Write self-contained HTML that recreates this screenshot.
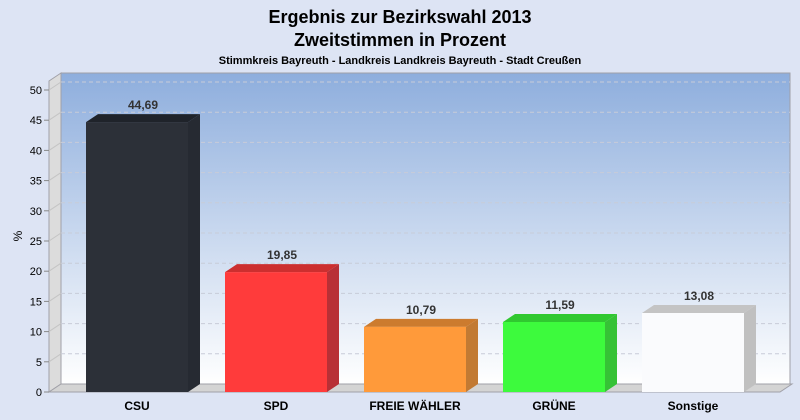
<!DOCTYPE html>
<html><head><meta charset="utf-8"><style>
body{margin:0;background:#dde4f4;font-family:"Liberation Sans",sans-serif;}
svg{display:block}
</style></head><body>
<svg width="800" height="420">
<defs>
<linearGradient id="bg" x1="0" y1="0" x2="0" y2="1"><stop offset="0" stop-color="#8eaedd"/><stop offset="1" stop-color="#ffffff"/></linearGradient>
</defs>
<rect width="800" height="420" fill="#dde4f4"/>
<text x="400" y="23" text-anchor="middle" font-size="18" font-weight="bold" fill="#000">Ergebnis zur Bezirkswahl 2013</text>
<text x="400" y="46" text-anchor="middle" font-size="18" font-weight="bold" fill="#000">Zweitstimmen in Prozent</text>
<text x="400" y="64" text-anchor="middle" font-size="11" font-weight="bold" fill="#000">Stimmkreis Bayreuth - Landkreis Landkreis Bayreuth - Stadt Creußen</text>
<rect x="61" y="73" width="729" height="311" fill="url(#bg)" stroke="#a0a0a8"/>
<polygon points="49,81 61,73 61,384 49,392" fill="#dcdcdc" stroke="#a0a0a8"/>
<polygon points="49,392 61,384 792,384 780,392" fill="#d4d4d4" stroke="#a0a0a8"/>
<text x="22" y="236" font-size="12" fill="#000" transform="rotate(-90 22 236)" text-anchor="middle">%</text>
<g id="grid"></g><g id="bars"></g>
</svg>
<script>
const categories=["CSU","SPD","FREIE WÄHLER","GRÜNE","Sonstige"];
const values=[44.69,19.85,10.79,11.59,13.08];
const labels=["44,69","19,85","10,79","11,59","13,08"];
const colors=[["#2c3038","#1f232a","#262a32"],["#ff3b3b","#cc2f2f","#b83036"],["#ff9a3a","#cc7b2e","#c27a33"],["#3dfa3d","#30c830","#36c236"],["#fafbfd","#c4c4c4","#c0c0c0"]];
const ticks=[0,5,10,15,20,25,30,35,40,45,50];
const NS="http://www.w3.org/2000/svg";
const y=v=>392-v*6.04;
const x=i=>86+i*139;
const DX=12,DY=8,W=102;
const g=document.getElementById('grid'),b=document.getElementById('bars');
function el(t,a,p){const e=document.createElementNS(NS,t);for(const k in a)e.setAttribute(k,a[k]);p.appendChild(e);return e;}
ticks.forEach(t=>{
 if(t>0){const l=el('line',{x1:61,x2:790,y1:y(t)-DY,y2:y(t)-DY,stroke:'#c8ccd8','stroke-dasharray':'4,3'},g);
 
 
 const d=el('line',{x1:49,x2:61,y1:y(t),y2:y(t)-DY,stroke:'#c4c4c4'},g);
 
 }
 const tk=el('line',{x1:44,x2:49,y1:y(t),y2:y(t),stroke:'#888'},g);
 
 
 const tx=el('text',{x:42,y:y(t)+4,'text-anchor':'end','font-size':11,fill:'#000'},g);
 tx.textContent=t;
 
 
});
values.forEach((v,i)=>{
 const x0=x(i),yt=y(v),c=colors[i];
 const gr=el('g',{},b);
 
 
 el('polygon',{points:`${x0+W},${yt} ${x0+W+DX},${yt-DY} ${x0+W+DX},${392-DY} ${x0+W},392`,fill:c[2]},gr);
 el('polygon',{points:`${x0},${yt} ${x0+DX},${yt-DY} ${x0+W+DX},${yt-DY} ${x0+W},${yt}`,fill:c[1]},gr);
 el('rect',{x:x0,y:yt,width:W,height:392-yt,fill:c[0]},gr);
 const vl=el('text',{x:x0+W/2+6,y:yt-DY-5,'text-anchor':'middle','font-size':12,'font-weight':'bold',fill:'#333'},b);
 vl.textContent=labels[i];
 
 
 const cl=el('text',{x:x0+W/2,y:410,'text-anchor':'middle','font-size':12,'font-weight':'bold',fill:'#000'},b);
 cl.textContent=categories[i];
 
 
});
</script>
</body></html>
